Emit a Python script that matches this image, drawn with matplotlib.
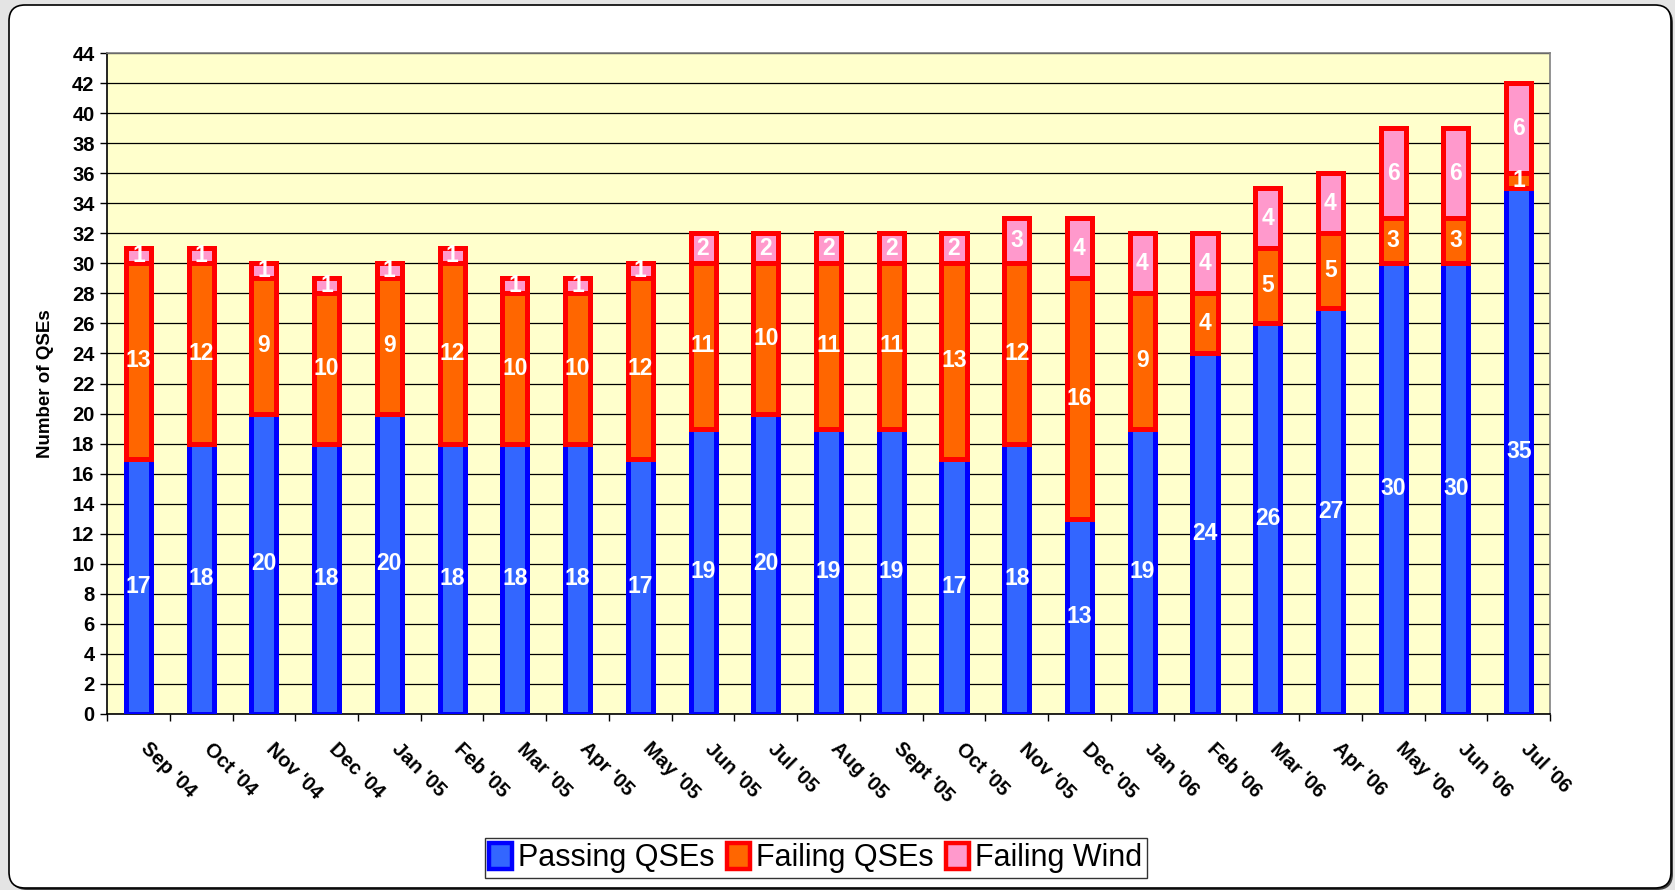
import numpy as np
import matplotlib
matplotlib.use("Agg")
import matplotlib.pyplot as plt
import matplotlib.transforms as mtransforms
from matplotlib.patches import FancyBboxPatch, Patch

plt.rcParams['font.family'] = ['Liberation Sans', 'DejaVu Sans']

months = ["Sep '04", "Oct '04", "Nov '04", "Dec '04", "Jan '05", "Feb '05",
          "Mar '05", "Apr '05", "May '05", "Jun '05", "Jul '05", "Aug '05",
          "Sept '05", "Oct '05", "Nov '05", "Dec '05", "Jan '06", "Feb '06",
          "Mar '06", "Apr '06", "May '06", "Jun '06", "Jul '06"]
passing = [17, 18, 20, 18, 20, 18, 18, 18, 17, 19, 20, 19, 19, 17, 18, 13,
           19, 24, 26, 27, 30, 30, 35]
failing = [13, 12, 9, 10, 9, 12, 10, 10, 12, 11, 10, 11, 11, 13, 12, 16,
           9, 4, 5, 5, 3, 3, 1]
wind = [1, 1, 1, 1, 1, 1, 1, 1, 1, 2, 2, 2, 2, 2, 3, 4, 4, 4, 4, 4, 6, 6, 6]

series = [
    ("Passing QSEs", passing, "#3366FF", "#0000FF"),
    ("Failing QSEs", failing, "#FF6600", "#FF0000"),
    ("Failing Wind", wind, "#FF99CC", "#FF0000"),
]

fig = plt.figure(figsize=(16.75, 8.9), dpi=100)
fig.patch.set_facecolor("#e4e4e4")

# rounded chart frame with a small shadow
shadow = FancyBboxPatch((0.11, 0.0), 16.62, 8.83,
                        boxstyle="round,pad=0,rounding_size=0.16",
                        transform=fig.dpi_scale_trans, facecolor="#404040",
                        edgecolor="none", zorder=-2)
frame = FancyBboxPatch((0.09, 0.02), 16.62, 8.83,
                       boxstyle="round,pad=0,rounding_size=0.16",
                       transform=fig.dpi_scale_trans, facecolor="white",
                       edgecolor="black", linewidth=1.2, zorder=-1)
fig.patches.extend([shadow, frame])

ax = fig.add_axes([0.0639, 0.1978, 0.8615, 0.7426])
ax.set_facecolor("#FFFFCC")

x = np.arange(len(months))
bottom = np.zeros(len(months))
for name, vals, fc, ec in series:
    vals = np.array(vals, dtype=float)
    ax.bar(x, vals, width=0.4, bottom=bottom, color=fc, edgecolor=ec,
           linewidth=3.6, zorder=3, label=name)
    for xi, b, v in zip(x, bottom, vals):
        ax.text(xi, b + v / 2, f"{int(v)}", ha="center", va="center",
                color="white", fontsize=16.5, fontweight="bold", zorder=5)
    bottom += vals

ax.set_xlim(-0.5, len(months) - 0.5)
ax.set_ylim(0, 44)
ax.set_yticks(np.arange(0, 45, 2))
ax.grid(axis="y", color="black", linewidth=0.9, zorder=1)
ax.set_axisbelow(True)

ax.tick_params(axis="y", direction="out", length=5, width=1, pad=4,
               labelsize=14.5)
for lbl in ax.get_yticklabels():
    lbl.set_fontweight("bold")

# tick marks between categories, labels at bar centres
ax.set_xticks(np.arange(-0.5, len(months), 1.0), minor=True)
ax.tick_params(axis="x", which="minor", direction="out", length=5, width=1)
ax.set_xticks(x)
ax.set_xticklabels(months, rotation=-45, ha="left", va="top",
                   rotation_mode="anchor", fontsize=14.5, fontweight="bold")
ax.tick_params(axis="x", which="major", length=0, pad=0)
offset = mtransforms.ScaledTranslation(0.12, -0.25, fig.dpi_scale_trans)
for lbl in ax.get_xticklabels():
    lbl.set_transform(lbl.get_transform() + offset)

for side in ("left", "bottom"):
    ax.spines[side].set_color("black")
    ax.spines[side].set_linewidth(1.2)
for side in ("top", "right"):
    ax.spines[side].set_color("#808080")
    ax.spines[side].set_linewidth(1.2)

ax.set_ylabel("Number of QSEs", fontsize=13.5, fontweight="bold")
ax.yaxis.set_label_coords(-0.037, 0.5)

handles = [Patch(facecolor=fc, edgecolor=ec, linewidth=3.2, label=name)
           for name, _, fc, ec in series]
leg = fig.legend(handles=handles, loc="center", bbox_to_anchor=(0.487, 0.036),
                 ncol=3, fontsize=22, frameon=True, fancybox=False,
                 edgecolor="black", handlelength=0.75, handleheight=0.95,
                 handletextpad=0.2, columnspacing=0.4, borderpad=0.15,
                 borderaxespad=0)
leg.get_frame().set_linewidth(1.0)

fig.savefig("out.png", dpi=100, facecolor=fig.get_facecolor())
